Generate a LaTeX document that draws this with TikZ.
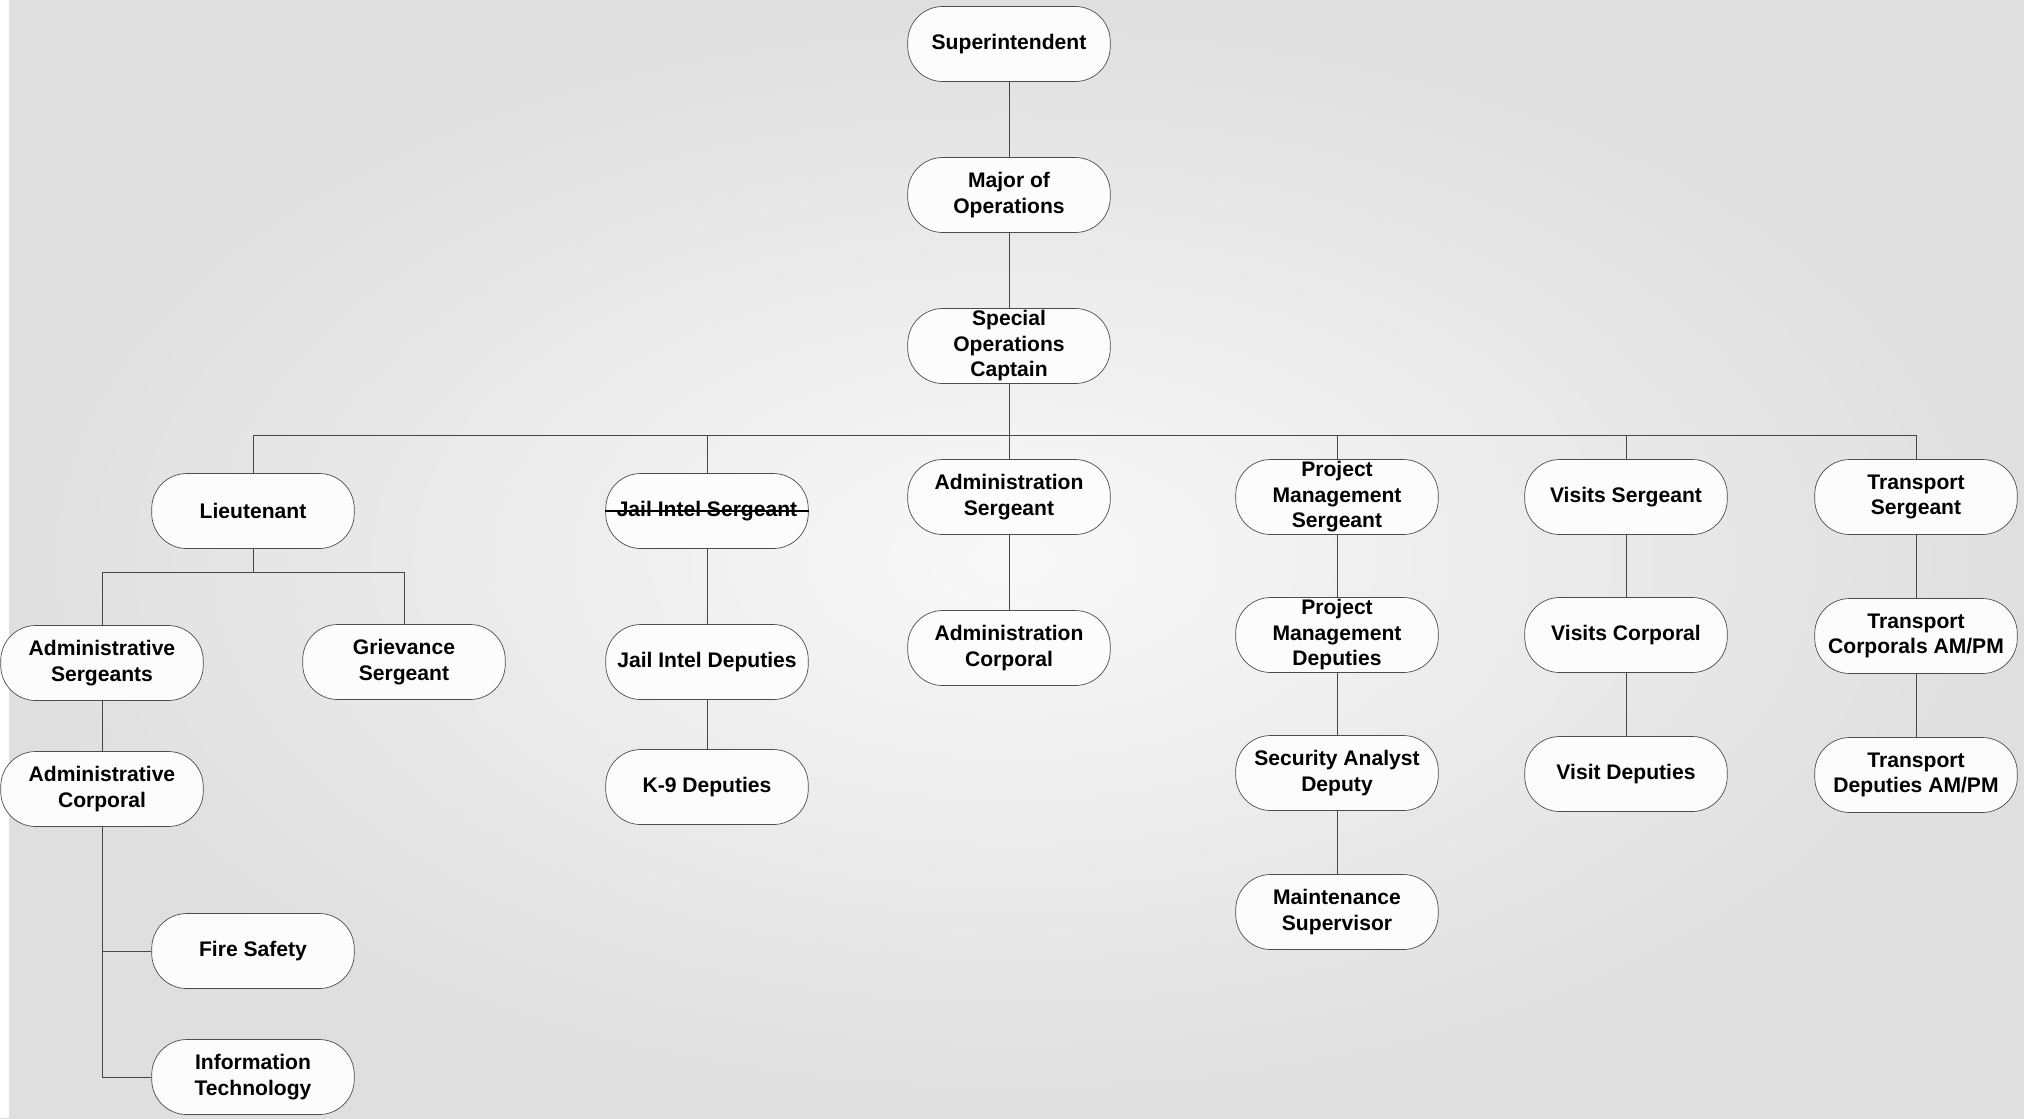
\documentclass[tikz,border=0pt]{standalone}
\usepackage{fontspec}
\setmainfont{Liberation Sans}

\begin{document}
\begin{tikzpicture}[node distance={30.2mm}, thin, main/.style = {draw=gray!60!black, fill=gray!2, rectangle, rounded corners=7mm, minimum width=40.5mm, minimum height=15mm, inner sep=1pt, align=center, font=\bfseries\fontsize{12}{14.5}\selectfont}, link/.style = {draw=gray!55!black, line width=0.5pt}]
    \shade[inner color=gray!5, outer color=gray!25] (-20.18,0.88) rectangle (20.3,-21.48);
    \fill[white] (-20.18,0.88) rectangle (-20.0,-21.48);
    \node[main] (1) {Superintendent};
    \node[main] (2) [below of=1] {Major of\\Operations};
    \node[main] (3) [below of=2] {Special\\Operations\\Captain};
    \node[main] (6) [below of=3] {Administration\\Sergeant};
    \node[main] (5) [left of=6, node distance={60.4mm}, yshift=-2.8mm] {Jail Intel Sergeant};
    \node[main] (4) [left of=5, node distance={90.8mm}] {Lieutenant};
    \node[main] (7) [right of=6, node distance={65.6mm}] {Project\\Management\\Sergeant};
    \node[main] (8) [right of=7, node distance={57.8mm}] {Visits Sergeant};
    \node[main] (9) [right of=8, node distance={58mm}] {Transport\\Sergeant};
    \node[main] (10) [below of=4, node distance={30.4mm}, xshift=-30.2mm] {Administrative\\Sergeants};
    \node[main] (11) [below of=4, node distance={30.2mm}, xshift=30.2mm] {Grievance\\Sergeant};
    \node[main] (12) [below of=10, node distance={25.2mm}] {Administrative\\Corporal};
    \node[main] (13) [below of=4, node distance={88mm}] {Fire Safety};
    \node[main] (14) [below of=13, node distance={25.2mm}] {Information\\Technology};
    \node[main] (15) [below of=5] {Jail Intel Deputies};
    \node[main] (16) [below of=15, node distance={25mm}] {K-9 Deputies};
    \node[main] (17) [below of=6] {Administration\\Corporal};
    \node[main] (18) [below of=7, node distance={27.6mm}] {Project\\Management\\Deputies};
    \node[main] (19) [below of=18, node distance={27.6mm}] {Security Analyst\\Deputy};
    \node[main] (20) [below of=19, node distance={27.8mm}] {Maintenance\\Supervisor};
    \node[main] (21) [below of=8, node distance={27.6mm}] {Visits Corporal};
    \node[main] (22) [below of=21, node distance={27.8mm}] {Visit Deputies};
    \node[main] (23) [below of=9, node distance={27.8mm}] {Transport\\Corporals AM/PM};
    \node[main] (24) [below of=23, node distance={27.8mm}] {Transport\\Deputies AM/PM};
    \coordinate[below of=3, node distance={17.8mm}] (b);
    \coordinate[below of=4, node distance={12.2mm}] (l);
    \draw[line width=1.1pt] (5.west) -- (5.east);
    \draw[link] (1) -- (2);
    \draw[link] (2) -- (3);
    \draw[link] (3) -- (6);
    \draw[link] (4) |- (b);
    \draw[link] (5) |- (b);
    \draw[link] (7) |- (b);
    \draw[link] (8) |- (b);
    \draw[link] (9) |- (b);
    \draw[link] (4) -- (l);
    \draw[link] (10) |- (l);
    \draw[link] (11) |- (l);
    \draw[link] (10) -- (12);
    \draw[link] (12) |- (13);
    \draw[link] (12) |- (14);
    \draw[link] (5) -- (15) -- (16);
    \draw[link] (6) -- (17);
    \draw[link] (7) -- (18) -- (19) -- (20);
    \draw[link] (8) -- (21) -- (22);
    \draw[link] (9) -- (23) -- (24);
\end{tikzpicture}
\end{document}
